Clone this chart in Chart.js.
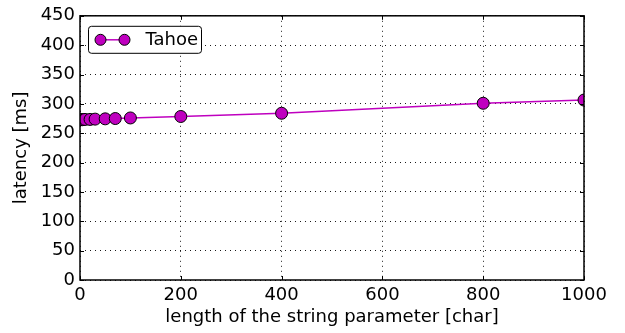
<!DOCTYPE html>
<html>
<head>
<meta charset="utf-8">
<script src="https://cdn.jsdelivr.net/npm/chart.js@4"></script>
<style>
  html, body { margin: 0; padding: 0; background: #fff; }
  canvas { display: block; }
</style>
</head>
<body>
<canvas id="latencyChart" width="625" height="333"></canvas>
<script>
// values
const seriesName = 'Tahoe';
const stringLengths = [1, 2, 5, 10, 20, 30, 50, 70, 100, 200, 400, 800, 1000];
const latencies = [273, 273, 273, 273.5, 273.5, 274, 274.5, 275, 276, 278.5, 284, 301, 306.5];
const xTickValues = [0, 200, 400, 600, 800, 1000];
const yTickValues = [0, 50, 100, 150, 200, 250, 300, 350, 400, 450];

const magenta = '#bf00bf';
const fontFamily = "'DejaVu Sans', sans-serif";

// black frame round the plot plus small inward ticks, like matplotlib
const framePlugin = {
    id: 'frame',
    afterDraw(chart) {
        const ctx = chart.ctx;
        const area = chart.chartArea;
        const xs = chart.scales.x;
        const ys = chart.scales.y;
        ctx.save();
        ctx.strokeStyle = '#000';
        ctx.lineWidth = 1;
        ctx.beginPath();
        xTickValues.forEach(v => {
            const px = Math.round(xs.getPixelForValue(v)) + 0.5;
            ctx.moveTo(px, area.bottom); ctx.lineTo(px, area.bottom - 4);
            ctx.moveTo(px, area.top); ctx.lineTo(px, area.top + 4);
        });
        yTickValues.forEach(v => {
            const py = Math.round(ys.getPixelForValue(v)) + 0.5;
            ctx.moveTo(area.left, py); ctx.lineTo(area.left + 4, py);
            ctx.moveTo(area.right, py); ctx.lineTo(area.right - 4, py);
        });
        ctx.stroke();
        ctx.lineWidth = 1.5;
        ctx.strokeRect(area.left, area.top, area.right - area.left, area.bottom - area.top);
        ctx.restore();
    }
};

// legend box inside the plot, top left
const legendPlugin = {
    id: 'insideLegend',
    afterDraw(chart) {
        const ctx = chart.ctx;
        const area = chart.chartArea;
        const bx = area.left + 8.5;
        const by = area.top + 10.5;
        const bw = 113;
        const bh = 27;
        const cy = by + bh / 2;
        ctx.save();
        ctx.fillStyle = '#fff';
        ctx.strokeStyle = '#000';
        ctx.lineWidth = 1;
        ctx.beginPath();
        ctx.roundRect(bx, by, bw, bh, 3);
        ctx.fill();
        ctx.stroke();

        ctx.strokeStyle = magenta;
        ctx.lineWidth = 1.5;
        ctx.beginPath();
        ctx.moveTo(bx + 12, cy);
        ctx.lineTo(bx + 36, cy);
        ctx.stroke();
        [bx + 12, bx + 36].forEach(mx => {
            ctx.beginPath();
            ctx.arc(mx, cy, 5.5, 0, Math.PI * 2);
            ctx.fillStyle = magenta;
            ctx.fill();
            ctx.strokeStyle = '#000';
            ctx.lineWidth = 1;
            ctx.stroke();
        });

        ctx.fillStyle = '#000';
        ctx.font = '18px ' + fontFamily;
        ctx.textBaseline = 'middle';
        ctx.textAlign = 'left';
        ctx.fillText(seriesName, bx + 57, cy + 1);
        ctx.restore();
    }
};

const ctx = document.getElementById('latencyChart').getContext('2d');
const latencyChart = new Chart(ctx, {
    type: 'scatter',
    data: {
        datasets: [{
            label: seriesName,
            data: stringLengths.map((len, i) => ({ x: len, y: latencies[i] })),
            showLine: true,
            borderColor: magenta,
            borderWidth: 1.5,
            pointRadius: 6,
            pointHoverRadius: 6,
            pointBackgroundColor: magenta,
            pointBorderColor: '#000',
            pointBorderWidth: 1,
            clip: 0
        }]
    },
    options: {
        responsive: false,
        animation: false,
        events: [],
        layout: {
            padding: { top: 13, right: 41, left: 0, bottom: 0 }
        },
        plugins: {
            legend: { display: false },
            tooltip: { enabled: false }
        },
        scales: {
            x: {
                type: 'linear',
                min: 0,
                max: 1000,
                afterBuildTicks: scale => {
                    scale.ticks = xTickValues.map(v => ({ value: v }));
                },
                afterFit: scale => { scale.height = 53; },
                // in v4 border.dash also sets the dash of the grid lines
                border: { display: false, dash: [1, 4] },
                grid: {
                    color: '#000',
                    lineWidth: 0.9,
                    drawTicks: false
                },
                ticks: {
                    padding: 5,
                    color: '#000',
                    maxRotation: 0,
                    callback: v => String(v),
                    font: { family: fontFamily, size: 18 }
                },
                title: {
                    display: true,
                    text: 'length of the string parameter [char]',
                    color: '#000',
                    padding: { top: 0, bottom: 5 },
                    font: { family: fontFamily, size: 18 }
                }
            },
            y: {
                type: 'linear',
                min: 0,
                max: 450,
                afterBuildTicks: scale => {
                    scale.ticks = yTickValues.map(v => ({ value: v }));
                },
                afterFit: scale => { scale.width = 80; },
                border: { display: false, dash: [1, 4] },
                grid: {
                    color: '#000',
                    lineWidth: 0.9,
                    drawTicks: false
                },
                ticks: {
                    padding: 5,
                    color: '#000',
                    callback: v => String(v),
                    font: { family: fontFamily, size: 18 }
                },
                title: {
                    display: true,
                    text: 'latency [ms]',
                    color: '#000',
                    padding: { top: 11, bottom: 0 },
                    font: { family: fontFamily, size: 18 }
                }
            }
        }
    },
    plugins: [framePlugin, legendPlugin]
});
</script>
</body>
</html>
